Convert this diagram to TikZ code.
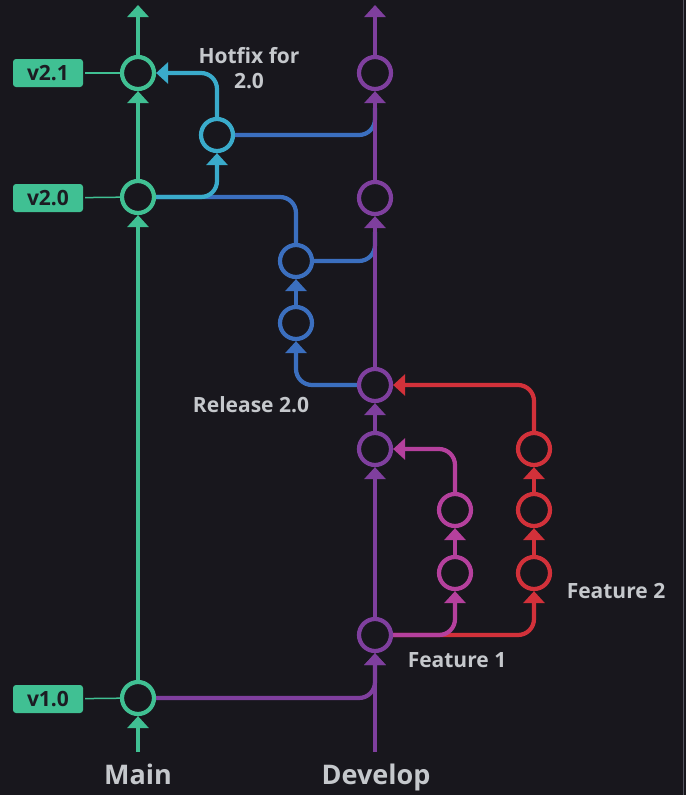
\documentclass[tikz,border=0pt]{standalone}
\usepackage{fontspec}
\setmainfont{Open Sans}
\usetikzlibrary{arrows.meta}
\definecolor{bg}{HTML}{18171D}
\definecolor{cmain}{HTML}{40C093}
\definecolor{cdev}{HTML}{7F3F9E}
\definecolor{chot}{HTML}{3AABCB}
\definecolor{crel}{HTML}{3B6FBF}
\definecolor{cfa}{HTML}{B5409D}
\definecolor{cfb}{HTML}{D2313A}
\definecolor{ctext}{HTML}{C5C8CC}
\definecolor{cdark}{HTML}{1C1B22}
\definecolor{cedge}{HTML}{55555F}
\begin{document}
\begin{tikzpicture}[x=1pt,y=-1pt,line width=4.2pt,
  commit/.style={circle,draw,fill=bg,minimum size=32pt,inner sep=0pt},
  tip/.style={-{Triangle[width=21pt,length=12pt]}},
  merge/.style={rounded corners=16pt},
  verbox/.style={rectangle,rounded corners=3pt,fill=cmain,minimum width=70pt,minimum height=28pt,inner sep=0pt,text=cdark,font=\bfseries\fontsize{21}{22}\selectfont},
  lbl/.style={text=ctext,font=\bfseries\fontsize{21}{25}\selectfont,anchor=base,align=center},
  big/.style={text=ctext,font=\bfseries\fontsize{27}{30}\selectfont,anchor=base}]
\fill[bg] (0,0) rectangle (686,795);
\useasboundingbox (0,0) rectangle (686,795);
\draw[cedge,line width=1.5pt] (683.5,0) -- (683.5,795);
% coordinates
\coordinate (mbot) at (138,752);
\coordinate (mtop) at (138,5);
\coordinate (dbot) at (375,752);
\coordinate (dtop) at (375,5);
\coordinate (hfj) at (375,108);
\coordinate (rlj) at (375,232);
% main commits
\node[commit,draw=cmain] (v21) at (138,73) {};
\node[commit,draw=cmain] (v20) at (138,197) {};
\node[commit,draw=cmain] (v10) at (138,698) {};
% develop commits
\node[commit,draw=cdev] (d1) at (375,73) {};
\node[commit,draw=cdev] (d2) at (375,198) {};
\node[commit,draw=cdev] (d3) at (375,385) {};
\node[commit,draw=cdev] (d4) at (375,449) {};
\node[commit,draw=cdev] (d5) at (375,635) {};
% hotfix
\node[commit,draw=chot] (hf) at (217,135) {};
% release
\node[commit,draw=crel] (r1) at (296,323) {};
\node[commit,draw=crel] (r2) at (296,261) {};
% feature 1
\node[commit,draw=cfa] (fa1) at (455,573) {};
\node[commit,draw=cfa] (fa2) at (455,510) {};
% feature 2
\node[commit,draw=cfb] (fb1) at (534,573) {};
\node[commit,draw=cfb] (fb2) at (534,510) {};
\node[commit,draw=cfb] (fb3) at (534,449) {};
% version labels
\node[verbox] (l21) at (48,73) {v2.1};
\node[verbox] (l20) at (48,198) {v2.0};
\node[verbox] (l10) at (48,699) {v1.0};
\draw[cmain,line width=1.5pt] (l21) -- (v21);
\draw[cmain,line width=1.5pt] (l20) -- (v20);
\draw[cmain,line width=1.5pt] (l10) -- (v10);
% merges and branches (behind)
\draw[cdev,merge,tip] (v10.east) -| (d5.south);
\draw[crel,merge] (hf.east) -| (hfj);
\draw[crel,merge] (r2.east) -| (rlj);
\draw[crel,merge] (r2.north) |- (v20.east);
\draw[crel,merge,tip] (d3.west) -| (r1.south);
\draw[crel,tip] (r1) -- (r2);
\draw[chot,merge,tip] (v20.east) -| (hf.south);
\draw[chot,merge,tip] (hf.north) |- (v21.east);
\draw[cfb,merge,tip] (d5.east) -| (fb1.south);
\draw[cfb,tip] (fb1) -- (fb2);
\draw[cfb,tip] (fb2) -- (fb3);
\draw[cfb,merge,tip] (fb3.north) |- (d3.east);
\draw[cfa,merge,tip] (d5.east) -| (fa1.south);
\draw[cfa,tip] (fa1) -- (fa2);
\draw[cfa,merge,tip] (fa2.north) |- (d4.east);
% main line
\draw[cmain,tip] (mbot) -- (v10);
\draw[cmain,tip] (v10) -- (v20);
\draw[cmain,tip] (v20) -- (v21);
\draw[cmain,tip] (v21) -- (mtop);
% develop line
\draw[cdev,tip] (dbot) -- (d5);
\draw[cdev,tip] (d5) -- (d4);
\draw[cdev,tip] (d4) -- (d3);
\draw[cdev,tip] (d3) -- (d2);
\draw[cdev,tip] (d2) -- (d1);
\draw[cdev,tip] (d1) -- (dtop);
% text labels
\node[lbl] (thf) at (249,88) {Hotfix for\\2.0};
\node[lbl] (trel) at (251,412) {Release 2.0};
\node[lbl] (tf1) at (457,667) {Feature 1};
\node[lbl] (tf2) at (616,598) {Feature 2};
\node[big] (tmain) at (138,784) {Main};
\node[big] (tdev) at (376,784) {Develop};
\end{tikzpicture}
\end{document}
